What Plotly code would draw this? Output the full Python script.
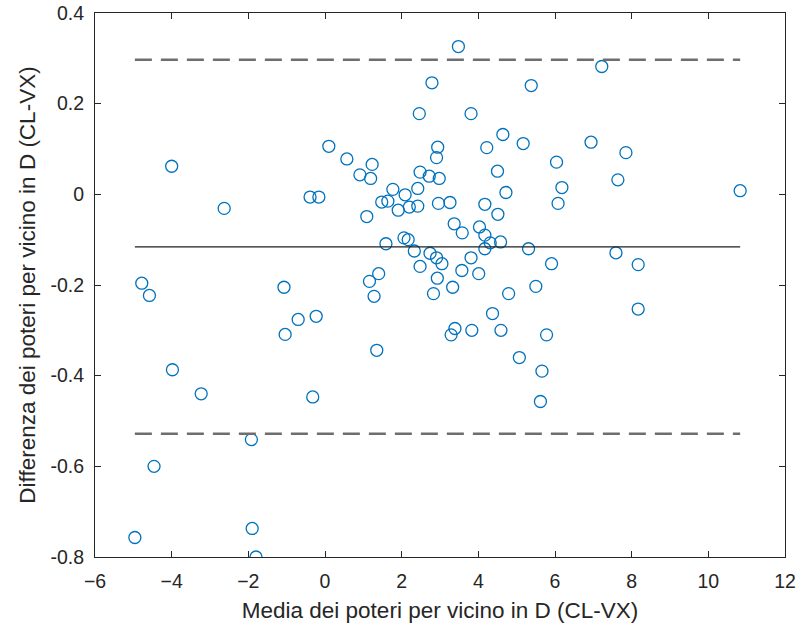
import plotly.graph_objects as go

# Bland-Altman data
media = [-4.96, -4.78, -4.58, -4.46, -4.00, -3.98, -3.23, -2.63, -1.92, -1.90,
         -1.80, -1.07, -1.04, -0.70, -0.39, -0.32, -0.23, -0.16, 0.10, 0.57,
         0.91, 1.09, 1.16, 1.19, 1.23, 1.28, 1.35, 1.40, 1.48, 1.59,
         1.64, 1.77, 1.91, 2.06, 2.09, 2.17, 2.20, 2.33, 2.42, 2.42,
         2.46, 2.48, 2.48, 2.72, 2.74, 2.79, 2.83, 2.91, 2.91, 2.93,
         2.94, 2.96, 2.98, 3.05, 3.26, 3.29, 3.33, 3.37, 3.39, 3.48,
         3.57, 3.58, 3.81, 3.81, 3.83, 4.01, 4.03, 4.17, 4.17, 4.17,
         4.22, 4.31, 4.37, 4.50, 4.51, 4.58, 4.59, 4.64, 4.72, 4.79,
         5.07, 5.17, 5.31, 5.38, 5.50, 5.62, 5.66, 5.78, 5.91, 6.04,
         6.08, 6.18, 6.94, 7.22, 7.59, 7.64, 7.85, 8.17, 8.17, 10.83]
differenza = [-0.757, -0.196, -0.223, -0.600, 0.062, -0.387, -0.440, -0.031, -0.541, -0.737,
              -0.800, -0.205, -0.309, -0.276, -0.006, -0.447, -0.269, -0.006, 0.106, 0.078,
              0.043, -0.049, -0.192, 0.035, 0.066, -0.225, -0.344, -0.175, -0.017, -0.109,
              -0.015, 0.011, -0.035, -0.096, -0.001, -0.100, -0.028, -0.125, 0.013, -0.026,
              0.178, 0.049, -0.159, 0.040, -0.130, 0.246, -0.219, 0.081, -0.140, -0.185,
              0.104, -0.020, 0.035, -0.153, -0.018, -0.310, -0.205, -0.065, -0.296, 0.326,
              -0.168, -0.085, 0.178, -0.140, -0.300, -0.175, -0.072, -0.022, -0.090, -0.120,
              0.103, -0.107, -0.263, 0.051, -0.044, -0.105, -0.300, 0.132, 0.004, -0.219,
              -0.360, 0.112, -0.120, 0.240, -0.203, -0.457, -0.390, -0.310, -0.153, 0.071,
              -0.020, 0.015, 0.115, 0.282, -0.129, 0.032, 0.092, -0.155, -0.253, 0.008]

bias = -0.116
loa_upper = 0.297
loa_lower = -0.528

x_ticks = [-6, -4, -2, 0, 2, 4, 6, 8, 10, 12]
y_ticks = [0.4, 0.2, 0, -0.2, -0.4, -0.6, -0.8]
y_ticklabels = ["0.4", "0.2", "0", "-0.2", "-0.4", "-0.6", "-0.8"]

xmin, xmax = min(media), max(media)
FONT = "Liberation Sans, Arial, Helvetica, sans-serif"
TXT = "#262626"

fig = go.Figure()
fig.add_trace(go.Scatter(
    x=media, y=differenza, mode="markers",
    marker=dict(symbol="circle-open", size=12, color="#0072BD",
                line=dict(width=1.3, color="#0072BD")),
    showlegend=False, hoverinfo="x+y"))
fig.add_trace(go.Scatter(
    x=[xmin, xmax], y=[bias, bias], mode="lines",
    line=dict(color="#1f1f1f", width=1.3), showlegend=False))
for v in (loa_upper, loa_lower):
    fig.add_trace(go.Scatter(
        x=[xmin, xmax], y=[v, v], mode="lines",
        line=dict(color="#6e6e6e", width=2.6, dash="17px,9px"), showlegend=False))

axis_common = dict(showgrid=False, zeroline=False, showline=True, linecolor=TXT,
                   linewidth=1, mirror="allticks", ticks="inside", ticklen=6,
                   tickcolor=TXT, automargin=False,
                   tickfont=dict(size=19.5, color=TXT, family=FONT))

fig.update_layout(
    width=805, height=626,
    margin=dict(l=95, r=20, t=13, b=69),
    paper_bgcolor="white", plot_bgcolor="white",
    font=dict(family=FONT, color=TXT),
    xaxis=dict(range=[-6, 12], tickvals=x_ticks, ticklabelstandoff=7, **axis_common,
               title=dict(text="Media dei poteri per vicino in D (CL-VX)",
                          font=dict(size=22.5, color=TXT), standoff=10)),
    yaxis=dict(range=[-0.8, 0.4], tickvals=y_ticks, ticktext=y_ticklabels,
               ticklabelstandoff=6, **axis_common,
               title=dict(text="Differenza dei poteri per vicino in D (CL-VX)",
                          font=dict(size=22.5, color=TXT), standoff=8)),
)

fig.write_html("out.html")
